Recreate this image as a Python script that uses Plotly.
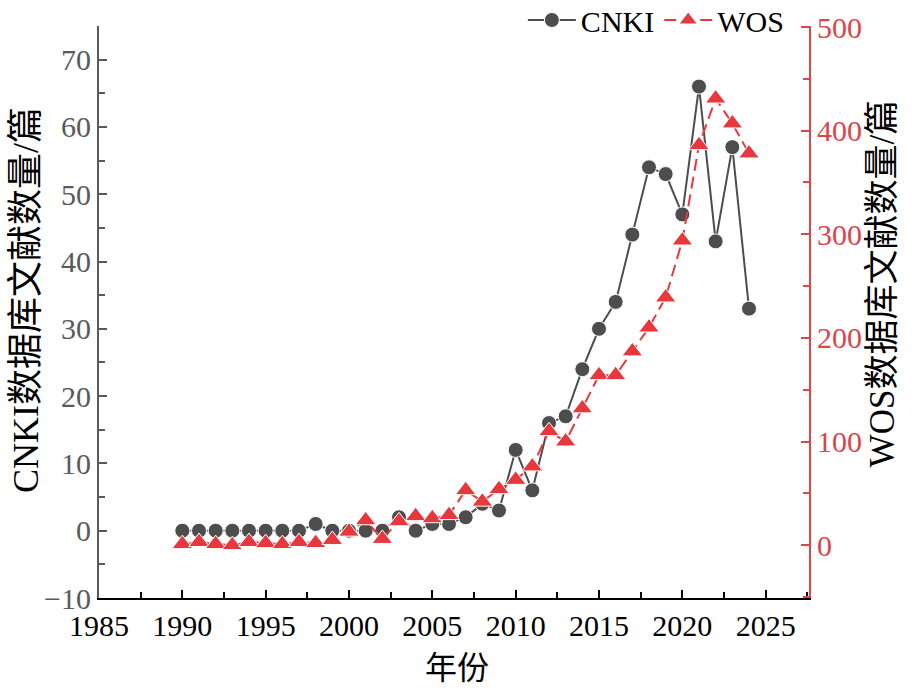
import plotly.graph_objects as go

years = list(range(1990, 2025))
cnki = [0, 0, 0, 0, 0, 0, 0, 0, 1, 0, 0, 0, 0, 2, 0, 1, 1, 2, 4, 3,
        12, 6, 16, 17, 24, 30, 34, 44, 54, 53, 47, 66, 43, 57, 33]
wos = [1, 3, 1, 0, 3, 2, 1, 3, 2, 5, 13, 24, 6, 23, 28, 26, 29, 53, 42, 54,
       63, 76, 110, 100, 132, 164, 164, 187, 210, 239, 294, 386, 431, 407, 378]

x_title = "年份"
y1_title = "CNKI数据库文献数量/篇"
y2_title = "WOS数据库文献数量/篇"

GRAY = "#4d4d4d"
AXGRAY = "#5a5a5a"
RED = "#e8383d"
AXRED = "#dc4549"
FONT = "Liberation Serif, Times New Roman, Noto Sans CJK SC, serif"

fig = go.Figure()
fig.add_trace(go.Scatter(
    x=years, y=cnki, name="CNKI", mode="lines+markers",
    line=dict(color=GRAY, width=2),
    marker=dict(symbol="circle", size=15, color=GRAY, line=dict(color="white", width=1)),
    yaxis="y"))
fig.add_trace(go.Scatter(
    x=years, y=wos, name="WOS", mode="lines+markers",
    line=dict(color=RED, width=2, dash="12px,6px"),
    marker=dict(symbol="triangle-up", size=18, color=RED, line=dict(color="white", width=1)),
    yaxis="y2"))

fig.update_layout(
    width=918, height=692,
    margin=dict(l=99, r=109, t=26, b=94, autoexpand=False),
    paper_bgcolor="white", plot_bgcolor="white",
    font=dict(family=FONT, size=30, color="black"),
    showlegend=True,
    legend=dict(orientation="h", x=0.597, xanchor="left", y=1.0105, yanchor="middle",
                bgcolor="rgba(0,0,0,0)", font=dict(size=30, color="black"),
                itemwidth=48, tracegroupgap=0),
    xaxis=dict(
        range=[1985, 2027.6], tick0=1985, dtick=5,
        showline=True, linecolor="black", linewidth=2,
        ticks="inside", ticklen=8, tickwidth=1.5, tickcolor="black",
        minor=dict(ticks="inside", dtick=2.5, tick0=1985, ticklen=6, tickcolor="black", tickwidth=1.5),
        showgrid=False, zeroline=False, automargin=False,
        tickfont=dict(size=30, color="black"),
    ),
    yaxis=dict(
        range=[-10, 75], tick0=0, dtick=10,
        showline=True, linecolor=AXGRAY, linewidth=2,
        ticks="inside", ticklen=8, tickwidth=1.5, tickcolor=AXGRAY,
        minor=dict(ticks="inside", dtick=5, tick0=0, ticklen=6, tickcolor=AXGRAY, tickwidth=1.5),
        showgrid=False, zeroline=False, automargin=False,
        tickfont=dict(size=30, color=AXGRAY),
    ),
    yaxis2=dict(
        range=[-51, 501], tick0=0, dtick=100, overlaying="y", side="right", anchor="x",
        showline=True, linecolor=AXRED, linewidth=2,
        ticks="inside", ticklen=8, tickwidth=1.5, tickcolor=AXRED,
        minor=dict(ticks="inside", dtick=50, tick0=0, ticklen=6, tickcolor=AXRED, tickwidth=1.5),
        showgrid=False, zeroline=False, automargin=False,
        tickfont=dict(size=30, color=AXRED),
    ),
    annotations=[
        dict(text=x_title, xref="paper", yref="paper", x=0.504, y=-0.1224,
             xanchor="center", yanchor="middle", showarrow=False,
             font=dict(size=32, color="black")),
        dict(text=y1_title, xref="paper", yref="paper", x=-0.1028, y=0.521,
             xanchor="center", yanchor="middle", showarrow=False, textangle=-90,
             font=dict(size=36, color="black")),
        dict(text=y2_title, xref="paper", yref="paper", x=1.1028, y=0.55,
             xanchor="center", yanchor="middle", showarrow=False, textangle=-90,
             font=dict(size=35, color="black")),
    ],
)

fig.write_html("out.html", config={"displayModeBar": False},
               post_script="document.body.style.margin='0';")
